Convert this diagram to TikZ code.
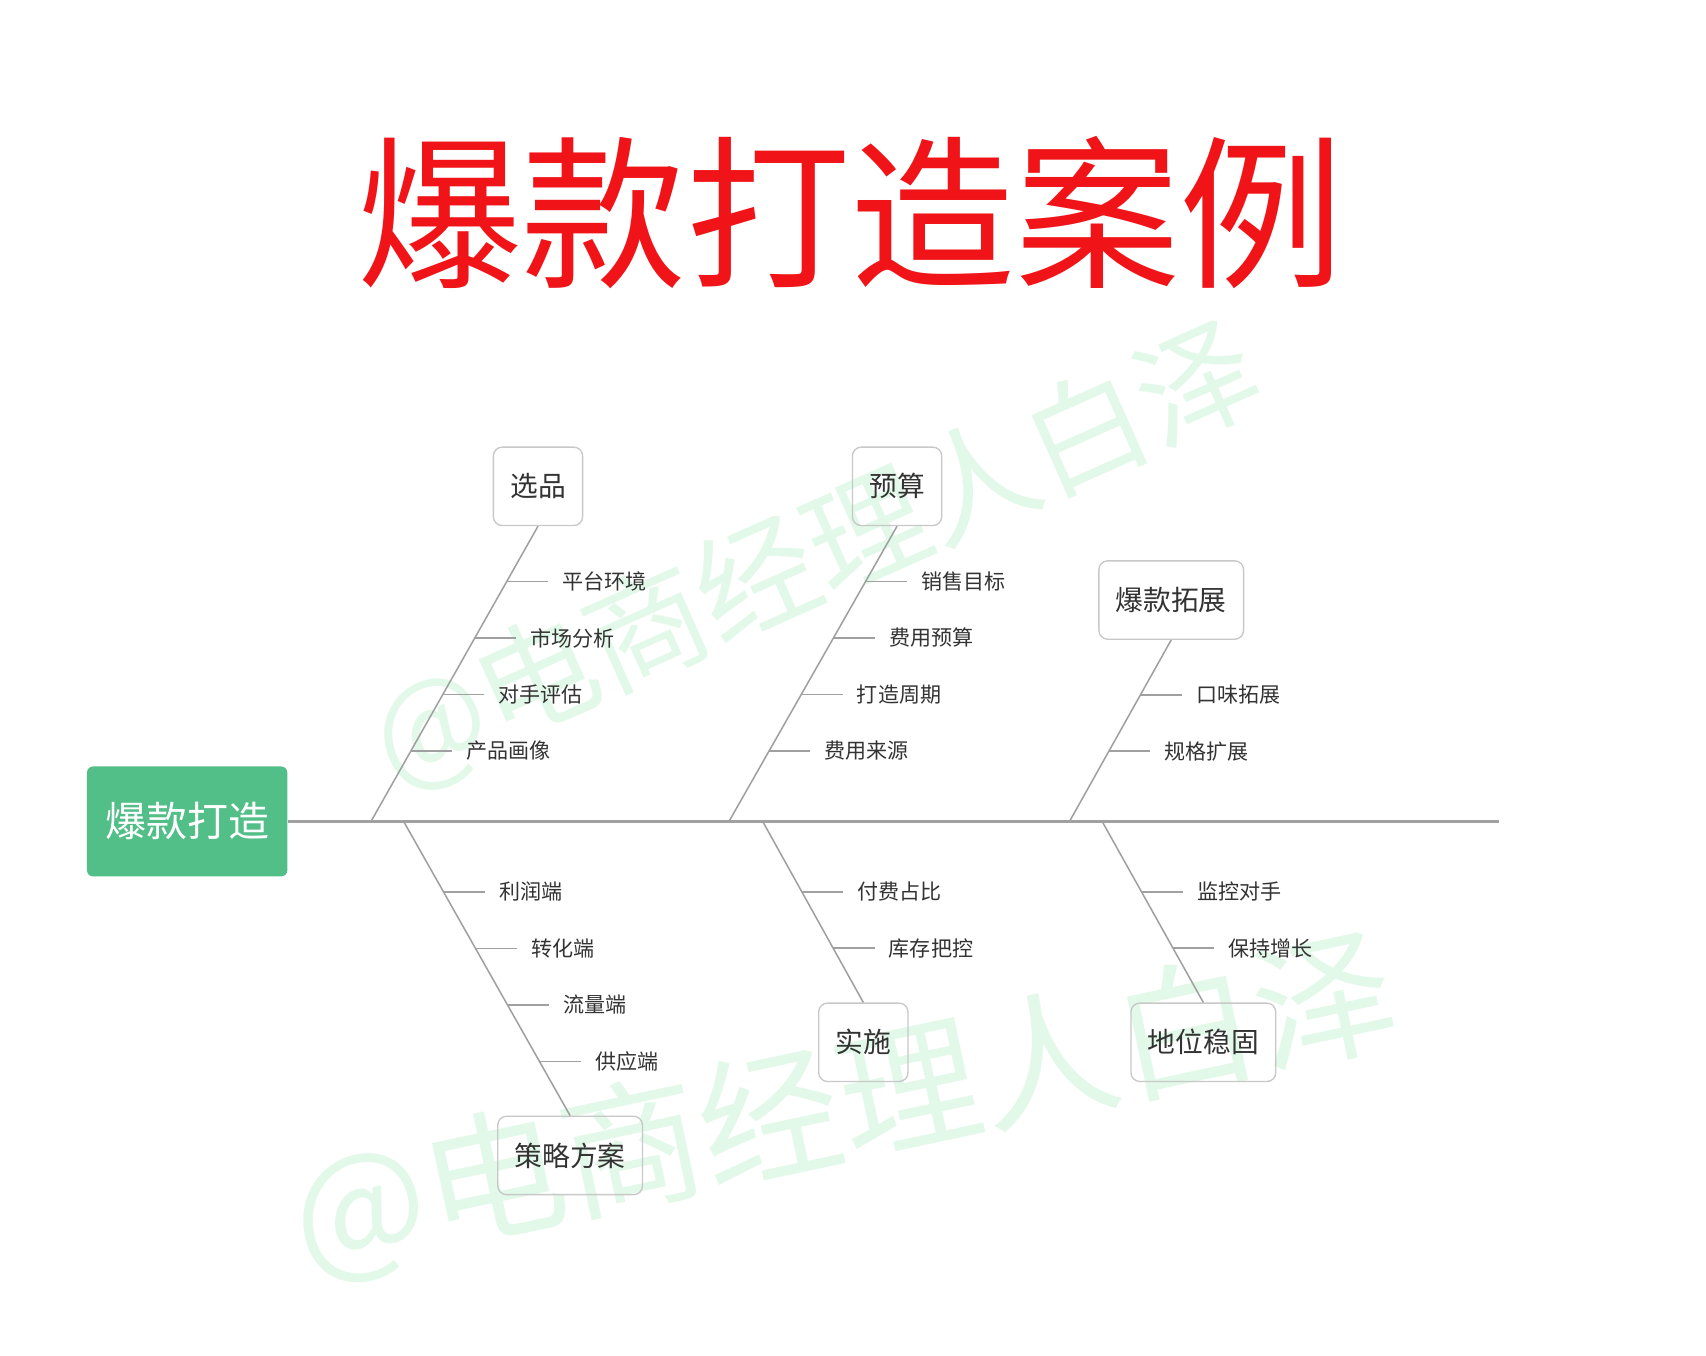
\documentclass[tikz,border=0pt]{standalone}
\usepackage{fontspec}
\setmainfont{Noto Sans CJK SC}
\usetikzlibrary{calc}

\definecolor{titlered}{RGB}{240,20,24}
\definecolor{rootgreen}{RGB}{82,190,136}
\definecolor{boneline}{RGB}{160,160,160}
\definecolor{boxline}{RGB}{200,200,200}
\definecolor{labeltext}{RGB}{51,51,51}
\definecolor{markgreen}{RGB}{226,249,233}

\tikzset{
  title/.style={text=titlered, inner sep=0pt, font=\fontsize{43}{43}\selectfont},
  rootbox/.style={fill=rootgreen, rounded corners=1.6pt, text=white, minimum width=1.84cm, minimum height=1.01cm, inner sep=0pt, font=\fontsize{10.7}{10.7}\selectfont},
  catbox/.style={draw=boxline, line width=0.35pt, rounded corners=2.3pt, text=labeltext, minimum height=0.72cm, inner xsep=0.155cm, font=\fontsize{7.25}{7.25}\selectfont},
  leaf/.style={text=labeltext, anchor=west, inner xsep=0.125cm, inner ysep=0pt, font=\fontsize{5.5}{5.5}\selectfont},
  spine/.style={draw=boneline, line width=0.8pt},
  bone/.style={draw=boneline, line width=0.4pt},
  watermark/.style={text=markgreen, inner sep=0pt}
}

\begin{document}
\begin{tikzpicture}[x=0.01cm, y=-0.01cm]
  % Page frame
  \fill[white] (0,0) rectangle (1568,1246);
  \useasboundingbox (0,0) rectangle (1568,1246);

  % Watermarks
  \node[watermark, rotate=24, font=\fontsize{31.5}{31.5}\selectfont] (mark1) at (750,512) {@电商经理人白泽};
  \node[watermark, rotate=12, font=\fontsize{37}{37}\selectfont] (mark2) at (776,1018) {@电商经理人白泽};

  % Title
  \node[title] (title) at (782,195) {爆款打造案例};

  % Head and spine
  \node[rootbox] (root) at (172,755) {爆款打造};
  \coordinate (tail) at (1378,755);
  \draw[spine] (root.east) -- (tail);

  % Junctions on the spine
  \coordinate (j1) at (341,755);
  \coordinate (j2) at (670,755);
  \coordinate (j3) at (983,755);
  \coordinate (j4) at (371,755);
  \coordinate (j5) at (701,755);
  \coordinate (j6) at (1013,755);

  % Upper causes
  \node[catbox] (sel) at (494.5,447) {选品};
  \node[catbox] (bud) at (824.5,447) {预算};
  \node[catbox] (ext) at (1076.5,551.5) {爆款拓展};

  % Lower causes
  \node[catbox] (plan) at (524,1062) {策略方案};
  \node[catbox] (act) at (793.5,958) {实施};
  \node[catbox] (hold) at (1106,958) {地位稳固};

  % Bones from the causes to the spine
  \draw[bone] (sel.south) -- (j1);
  \draw[bone] (bud.south) -- (j2);
  \draw[bone] (ext.south) -- (j3);
  \draw[bone] (plan.north) -- (j4);
  \draw[bone] (act.north) -- (j5);
  \draw[bone] (hold.north) -- (j6);

  % Sub causes of 选品
  \foreach \lbl [count=\i] in {产品画像,对手评估,市场分析,平台环境}{
    \pgfmathsetmacro\tpos{(13+52*\i)/272}
    \coordinate (sel-\i) at ($(j1)!\tpos!(sel.south)$);
    \node[leaf] (sel-leaf-\i) at ($(sel-\i)+(38,0)$) {\lbl};
    \draw[bone] (sel-\i) -- (sel-leaf-\i.west);
  }

  % Sub causes of 预算
  \foreach \lbl [count=\i] in {费用来源,打造周期,费用预算,销售目标}{
    \pgfmathsetmacro\tpos{(13+52*\i)/272}
    \coordinate (bud-\i) at ($(j2)!\tpos!(bud.south)$);
    \node[leaf] (bud-leaf-\i) at ($(bud-\i)+(38,0)$) {\lbl};
    \draw[bone] (bud-\i) -- (bud-leaf-\i.west);
  }

  % Sub causes of 爆款拓展
  \foreach \lbl [count=\i] in {规格扩展,口味拓展}{
    \pgfmathsetmacro\tpos{(13+52*\i)/168}
    \coordinate (ext-\i) at ($(j3)!\tpos!(ext.south)$);
    \node[leaf] (ext-leaf-\i) at ($(ext-\i)+(38,0)$) {\lbl};
    \draw[bone] (ext-\i) -- (ext-leaf-\i.west);
  }

  % Sub causes of 策略方案
  \foreach \lbl [count=\i] in {利润端,转化端,流量端,供应端}{
    \pgfmathsetmacro\tpos{(13+52*\i)/271}
    \coordinate (plan-\i) at ($(j4)!\tpos!(plan.north)$);
    \node[leaf] (plan-leaf-\i) at ($(plan-\i)+(38,0)$) {\lbl};
    \draw[bone] (plan-\i) -- (plan-leaf-\i.west);
  }

  % Sub causes of 实施
  \foreach \lbl [count=\i] in {付费占比,库存把控}{
    \pgfmathsetmacro\tpos{(13+52*\i)/167}
    \coordinate (act-\i) at ($(j5)!\tpos!(act.north)$);
    \node[leaf] (act-leaf-\i) at ($(act-\i)+(38,0)$) {\lbl};
    \draw[bone] (act-\i) -- (act-leaf-\i.west);
  }

  % Sub causes of 地位稳固
  \foreach \lbl [count=\i] in {监控对手,保持增长}{
    \pgfmathsetmacro\tpos{(13+52*\i)/167}
    \coordinate (hold-\i) at ($(j6)!\tpos!(hold.north)$);
    \node[leaf] (hold-leaf-\i) at ($(hold-\i)+(38,0)$) {\lbl};
    \draw[bone] (hold-\i) -- (hold-leaf-\i.west);
  }
\end{tikzpicture}
\end{document}
